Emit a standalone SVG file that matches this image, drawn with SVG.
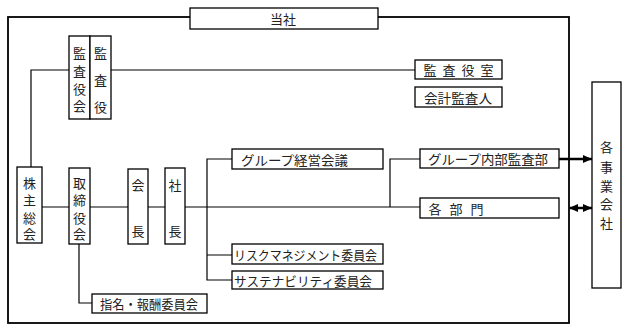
<svg xmlns="http://www.w3.org/2000/svg" width="628" height="331" viewBox="0 0 628 331">
<style>
.box{fill:#fff;stroke:#000;stroke-width:1.3}
.frame{fill:none;stroke:#000;stroke-width:1.8}
.ln{fill:none;stroke:#000;stroke-width:1.2}
.t{font-family:"Noto Sans CJK JP","Noto Sans CJK SC",sans-serif;font-size:13px;fill:#222;dominant-baseline:central}
.c{text-anchor:middle}
</style>
<defs>
<marker id="ah" markerUnits="userSpaceOnUse" markerWidth="10" markerHeight="10" refX="9" refY="5" orient="auto">
<path d="M0,1 L9,5 L0,9 Z" fill="#000"/>
</marker>
<marker id="ahs" markerUnits="userSpaceOnUse" markerWidth="10" markerHeight="10" refX="1" refY="5" orient="auto">
<path d="M9,1 L0,5 L9,9 Z" fill="#000"/>
</marker>
</defs>
<rect id="frame" class="frame" x="8" y="17" width="561" height="306"/>
<g id="connectors">
<path class="ln" d="M69,70 H31 V167"/>
<path class="ln" d="M111,70 H415"/>
<path class="ln" d="M42,207 H69 M90,207 H128 M148,207 H165 M185,207 H420"/>
<path class="ln" d="M232,159 H207 V280 H232 M207,255 H232"/>
<path class="ln" d="M79,244 V303 H92"/>
<path class="ln" d="M390,207 V159 H420"/>
<path d="M559,159 H592" fill="none" stroke="#000" stroke-width="2.5" marker-end="url(#ah)"/>
<path d="M570,208 H592" fill="none" stroke="#000" stroke-width="2.5" marker-start="url(#ahs)" marker-end="url(#ah)"/>
</g>
<g id="tousha"><rect class="box" x="190" y="8" width="188" height="21"/><text class="t c" x="283" y="18">当社</text></g>
<g id="kansayakukai"><rect class="box" x="69" y="36" width="21" height="83"/><text class="t c" x="79.5 79.5 79.5 79.5" y="52 70 88 105">監査役会</text></g>
<g id="kansayaku"><rect class="box" x="90" y="36" width="21" height="83"/><text class="t c" x="100.5 100.5 100.5" y="52 79 106">監査役</text></g>
<g id="kabunushi"><rect class="box" x="17" y="167" width="25" height="76"/><text class="t c" x="29.5 29.5 29.5 29.5" y="182 199 217 233">株主総会</text></g>
<g id="torishimariyakukai"><rect class="box" x="69" y="168" width="21" height="76"/><text class="t c" x="79.5 79.5 79.5 79.5" y="182 199 217 233">取締役会</text></g>
<g id="kaicho"><rect class="box" x="128" y="169" width="20" height="75"/><text class="t c" x="138 138" y="184 230">会長</text></g>
<g id="shacho"><rect class="box" x="165" y="168" width="20" height="76"/><text class="t c" x="175 175" y="184 230">社長</text></g>
<g id="group-keiei"><rect class="box" x="232" y="149" width="151" height="20"/><text class="t" x="241" y="159" textLength="107" lengthAdjust="spacingAndGlyphs">グループ経営会議</text></g>
<g id="risk"><rect class="box" x="232" y="244" width="151" height="20"/><text class="t" x="234" y="254" textLength="143" lengthAdjust="spacingAndGlyphs">リスクマネジメント委員会</text></g>
<g id="sustain"><rect class="box" x="232" y="271" width="151" height="18"/><text class="t" x="234" y="280" textLength="138" lengthAdjust="spacingAndGlyphs">サステナビリティ委員会</text></g>
<g id="shimei"><rect class="box" x="92" y="294" width="115" height="19"/><text class="t" x="100" y="303.5" textLength="98" lengthAdjust="spacingAndGlyphs">指名・報酬委員会</text></g>
<g id="kansayakushitsu"><rect class="box" x="415" y="60" width="87" height="19"/><text class="t c" x="430 449 468 487" y="69.5">監査役室</text></g>
<g id="kaikeikansanin"><rect class="box" x="415" y="87" width="87" height="20"/><text class="t" x="424" y="97" textLength="68" lengthAdjust="spacingAndGlyphs">会計監査人</text></g>
<g id="naibukansa"><rect class="box" x="420" y="149" width="139" height="19"/><text class="t" x="428" y="158.5" textLength="120" lengthAdjust="spacingAndGlyphs">グループ内部監査部</text></g>
<g id="kakubumon"><rect class="box" x="420" y="198" width="139" height="20"/><text class="t c" x="435 456 477" y="208">各部門</text></g>
<g id="kakujigyo"><rect class="box" x="592" y="82" width="29" height="206"/><text class="t c" x="606.5 606.5 606.5 606.5 606.5" y="146 166 185 203 222">各事業会社</text></g>
</svg>
